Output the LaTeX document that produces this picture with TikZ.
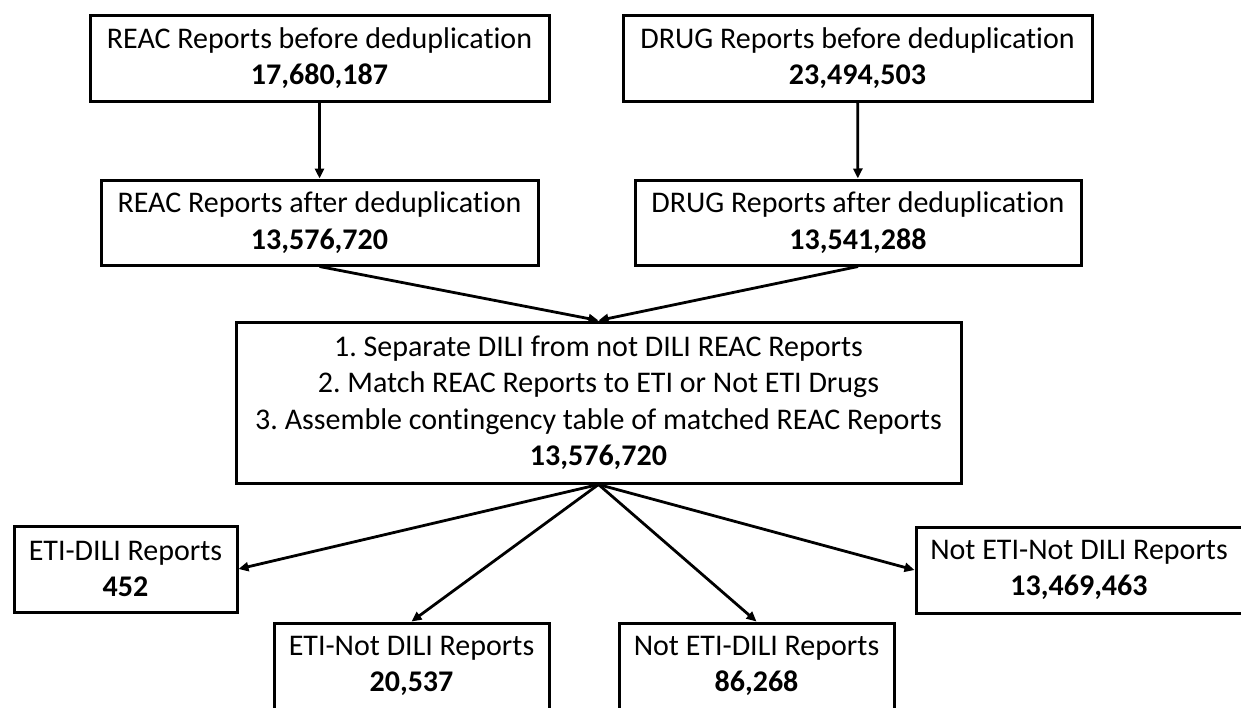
\documentclass[tikz,border=0pt]{standalone}
\usepackage{fontspec}
\setmainfont{Carlito}[Ligatures={NoCommon}, Contextuals={NoAlternate}]
\usetikzlibrary{arrows.meta}
\frenchspacing
\begin{document}
\begin{tikzpicture}[x=1pt,y=-1pt,
  box/.style={draw, line width=3pt, align=center, inner sep=0pt,
    font=\fontsize{30}{36.5}\selectfont, minimum height=86pt},
  arr/.style={line width=2.8pt, -{Triangle[length=10pt,width=9pt]}}]
\useasboundingbox (0,0) rectangle (1241,707);
\node[box, minimum width=459pt] (b1) at (319.5,58) {REAC Reports before deduplication\\\textbf{17,680,187}};
\node[box, minimum width=437pt, minimum height=85pt] (b2) at (319.5,222.5) {REAC Reports after deduplication\\\textbf{13,576,720}};
\node[box, minimum width=469pt] (b3) at (857.5,58) {DRUG Reports before deduplication\\\textbf{23,494,503}};
\node[box, minimum width=446pt, minimum height=85pt] (b4) at (858,222.5) {DRUG Reports after deduplication\\\textbf{13,541,288}};
\node[box, minimum width=725pt, minimum height=161pt] (c) at (598.5,402.5) {1. Separate DILI from not DILI REAC Reports\\2. Match REAC Reports to ETI or Not ETI Drugs\\3. Assemble contingency table of matched REAC Reports\\\textbf{13,576,720}};
\node[box, minimum width=223pt] (e1) at (125.5,569) {ETI-DILI Reports\\\textbf{452}};
\node[box, minimum width=275pt] (e2) at (411.5,666) {ETI-Not DILI Reports\\\textbf{20,537}};
\node[box, minimum width=275pt] (e3) at (756.5,666) {Not ETI-DILI Reports\\\textbf{86,268}};
\node[box, minimum width=326pt] (e4) at (1079,570) {Not ETI-Not DILI Reports\\\textbf{13,469,463}};
\draw[arr] (b1) -- (b2);
\draw[arr] (b3) -- (b4);
\draw[arr] (b2.south) -- (c.north);
\draw[arr] (b4.south) -- (c.north);
\draw[arr] (c.south) -- (e1.east);
\draw[arr] (c.south) -- (e2.north);
\draw[arr] (c.south) -- (e3.north);
\draw[arr] (c.south) -- (e4.west);
\end{tikzpicture}
\end{document}
